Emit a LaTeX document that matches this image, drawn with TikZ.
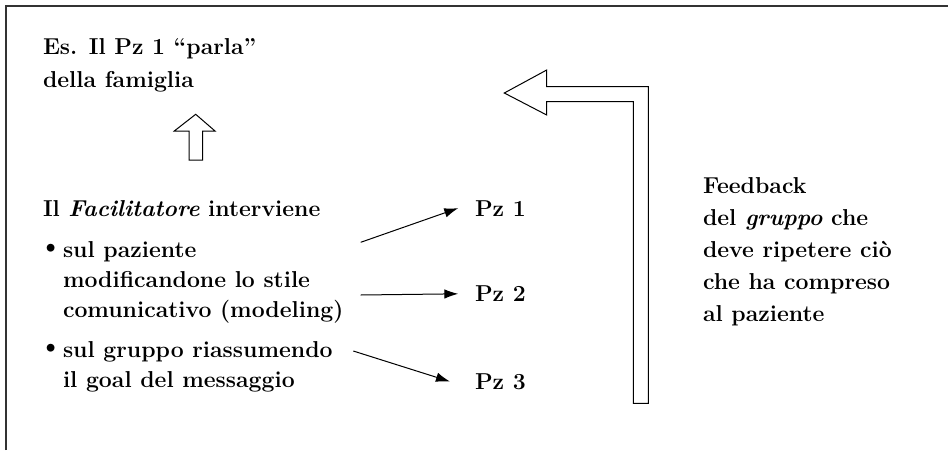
\documentclass[tikz,border=0pt]{standalone}
\usetikzlibrary{arrows.meta}
\tikzset{
  txt/.style={inner sep=0pt, outer sep=0pt, anchor=base west, align=left,
    font=\fontsize{23}{30}\selectfont\bfseries},
  dot/.style={inner sep=0pt, anchor=base, font=\fontsize{35}{35}\selectfont},
  blockarrow/.style={draw=black, line width=1pt, line join=miter},
  link/.style={line width=1pt, -{Latex[length=14pt,width=9.5pt]}},
  frame/.style={draw=black!80, line width=1.1pt}
}
\begin{document}
\begin{tikzpicture}[x=1pt,y=-1pt]
\useasboundingbox (0,0) rectangle (948,450);

% open frame: top and left edges only
\draw[frame] (6,450) -- (6,6) -- (948,6);

% example at the top left (anchored on the last line's baseline)
\node[txt, font=\fontsize{23}{33}\selectfont\bfseries] (es) at (43,87)
  {Es. Il Pz 1 “parla”\\della famiglia};

% small hollow arrow pointing up
\draw[blockarrow] (195.7,114.3) -- (215,131) -- (202.7,131) -- (202.7,160)
  -- (189,160) -- (189,131) -- (174.3,131) -- cycle;

% what the facilitator does
\node[txt] (fac) at (43,216) {Il \textit{Facilitatore} interviene};
\node[dot] (b1) at (51,257) {\textbullet};
\node[txt] (item1) at (63,317) {sul paziente\\modificandone lo stile\\comunicativo (modeling)};
\node[dot] (b2) at (51,357) {\textbullet};
\node[txt] (item2) at (63,387) {sul gruppo riassumendo\\il goal del messaggio};

% patients
\node[txt] (pz1) at (475,216) {Pz 1};
\node[txt] (pz2) at (475,301.7) {Pz 2};
\node[txt] (pz3) at (475,389.3) {Pz 3};

\coordinate (s1) at (360.7,242.3);
\coordinate (s2) at (360.7,295);
\coordinate (s3) at (353.3,351);

\draw[link] (s1) -- ([xshift=-16.7pt]pz1.west);
\draw[link] (s2) -- ([xshift=-16.7pt]pz2.west);
\draw[link] (s3) -- ([xshift=-25pt]pz3.west);

% large hollow L-shaped arrow pointing back to the example
\draw[blockarrow] (504.3,93) -- (546.7,70) -- (546.7,86.7) -- (648.3,86.7)
  -- (648.3,403.3) -- (633.3,403.3) -- (633.3,101.7) -- (546.7,101.7)
  -- (546.7,115) -- cycle;

% group feedback
\node[txt, font=\fontsize{23}{32.1}\selectfont\bfseries] (fb) at (703,321.7)
  {Feedback\\del \textit{gruppo} che\\deve ripetere ciò\\che ha compreso\\al paziente};
\end{tikzpicture}
\end{document}
